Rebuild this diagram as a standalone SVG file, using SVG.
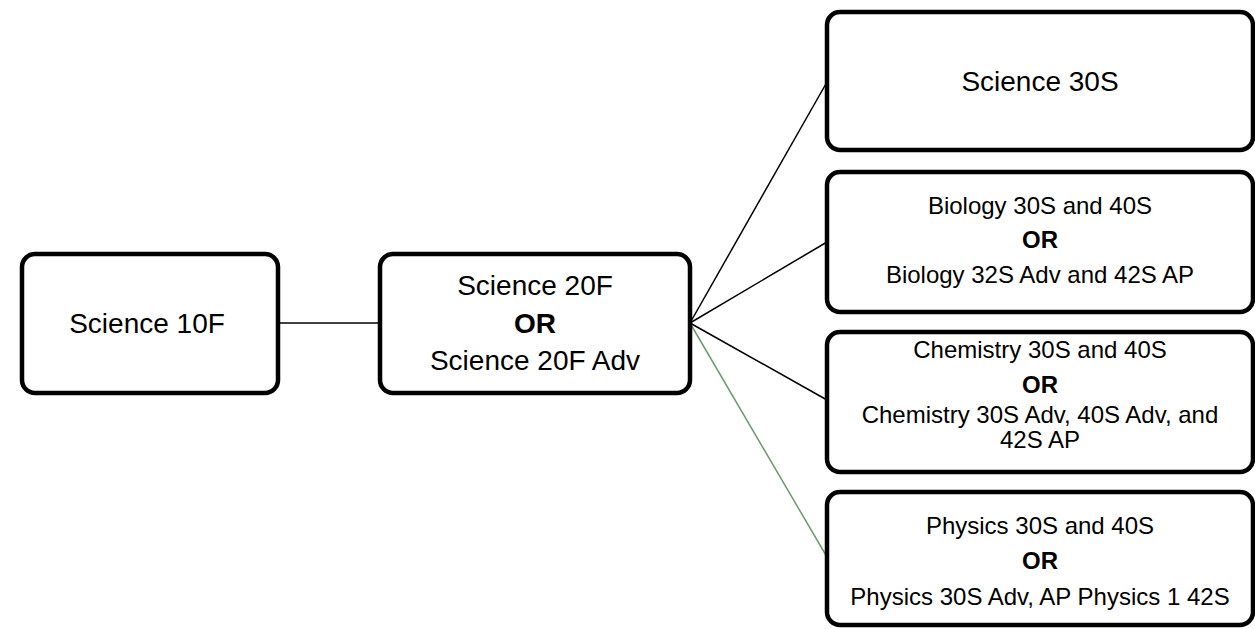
<svg xmlns="http://www.w3.org/2000/svg" width="1255" height="629" viewBox="0 0 1255 629">
<style>
.box{fill:#fff;stroke:#000;stroke-width:4.5}
.t{font-family:"Liberation Sans",Arial,sans-serif;fill:#000;text-anchor:middle}
.big{font-size:28px}
.sm{font-size:24px}
.b{font-weight:bold}
.c{stroke:#000;stroke-width:1.5;fill:none}
.g{stroke:#6b9a6b}
</style>
<rect width="1255" height="629" fill="#fff"/>
<g id="connectors">
<line class="c" x1="278" y1="323" x2="380" y2="323"/>
<line class="c" x1="690" y1="323" x2="827" y2="82"/>
<line class="c" x1="690" y1="323" x2="827" y2="242"/>
<line class="c" x1="690" y1="323" x2="827" y2="400"/>
<line class="c g" x1="690" y1="323" x2="827" y2="557"/>
</g>
<g id="sci10">
<rect class="box" x="22" y="254" width="256" height="139" rx="13"/>
<text class="t big" x="147" y="333">Science 10F</text>
</g>
<g id="sci20">
<rect class="box" x="380" y="254" width="310" height="139" rx="13"/>
<text class="t big" x="535" y="295">Science 20F</text>
<text class="t big b" x="535" y="333">OR</text>
<text class="t big" x="535" y="370">Science 20F Adv</text>
</g>
<g id="sci30">
<rect class="box" x="827" y="12" width="426" height="138" rx="13"/>
<text class="t big" x="1040" y="91">Science 30S</text>
</g>
<g id="bio">
<rect class="box" x="827" y="172" width="426" height="140" rx="13"/>
<text class="t sm" x="1040" y="214">Biology 30S and 40S</text>
<text class="t sm b" x="1040" y="248">OR</text>
<text class="t sm" x="1040" y="283">Biology 32S Adv and 42S AP</text>
</g>
<g id="chem">
<rect class="box" x="827" y="332" width="426" height="140" rx="13"/>
<text class="t sm" x="1040" y="358">Chemistry 30S and 40S</text>
<text class="t sm b" x="1040" y="393">OR</text>
<text class="t sm" x="1040" y="423">Chemistry 30S Adv, 40S Adv, and</text>
<text class="t sm" x="1040" y="448">42S AP</text>
</g>
<g id="phys">
<rect class="box" x="827" y="492" width="426" height="133" rx="13"/>
<text class="t sm" x="1040" y="534">Physics 30S and 40S</text>
<text class="t sm b" x="1040" y="569">OR</text>
<text class="t sm" x="1040" y="605">Physics 30S Adv, AP Physics 1 42S</text>
</g>
</svg>
